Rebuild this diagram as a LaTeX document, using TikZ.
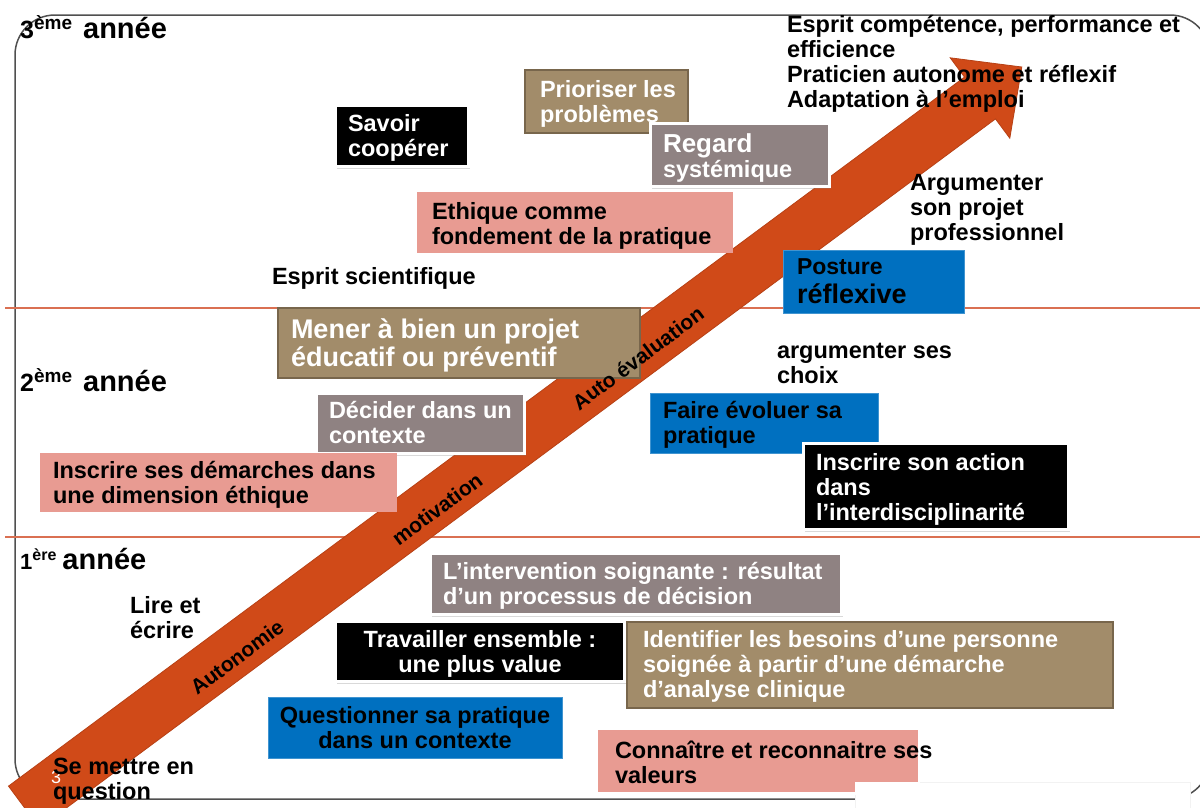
\documentclass[tikz,border=0pt]{standalone}
\usepackage{fontspec}
\setmainfont{Liberation Sans}
\usetikzlibrary{fit,shadows}
\definecolor{tanc}{RGB}{162,140,106}
\definecolor{tanb}{RGB}{120,102,76}
\definecolor{grayc}{RGB}{143,130,130}
\definecolor{pinkc}{RGB}{232,155,146}
\definecolor{bluec}{RGB}{0,112,192}
\definecolor{arrowc}{RGB}{208,74,24}
\definecolor{linec}{RGB}{218,112,82}
\definecolor{framec}{RGB}{80,80,80}
\tikzset{
  basebox/.style={inner sep=0pt, outer sep=0pt},
  boxtan/.style={basebox, fill=tanc, draw=tanb, line width=1.2pt},
  boxpink/.style={basebox, fill=pinkc},
  boxblue/.style={basebox, fill=bluec, draw=bluec!75!white, line width=0.8pt},
  shadowed/.style={drop shadow={shadow xshift=1.5pt, shadow yshift=-2.5pt, opacity=0.3}},
  boxgray/.style={basebox, inner sep=1.5pt, fill=grayc, draw=white, line width=3pt, shadowed},
  boxblack/.style={basebox, inner sep=1.5pt, fill=black, draw=white, line width=3pt, shadowed},
  txt/.style={inner sep=0pt, outer sep=0pt, align=left, anchor=west,
    font=\bfseries\fontsize{23.5}{25}\selectfont,
    execute at begin node=\strut, execute at end node=\strut},
  wtxt/.style={txt, text=white},
  ctxt/.style={txt, anchor=center, align=center},
  yr/.style={inner sep=0pt, anchor=base west, font=\bfseries\fontsize{29}{30}\selectfont},
  arrowlbl/.style={inner sep=0pt, rotate=36.56, font=\bfseries\fontsize{21}{21}\selectfont},
}
\begin{document}
\begin{tikzpicture}[x=1pt, y=-1pt]
\useasboundingbox (0,0) rectangle (1200,807);
\begin{scope}
\clip (0,0) rectangle (1200,807);
% frame
\draw[framec, line width=1.5pt, rounded corners=40pt] (15,15) rectangle (1210,799);
% year separators
\draw[linec, line width=1.3pt] (5,308) -- (1200,308);
\draw[linec, line width=1.3pt] (5,537) -- (1200,537);
% big arrow
\fill[arrowc, draw=arrowc!88!black, line width=0.8pt]
  (8.5,786.1) -- (964.5,77.1) -- (950.2,57.8) -- (1021.8,67) -- (1009.8,138.2)
  -- (995.5,118.9) -- (39.5,827.9) -- cycle;
% white cover at bottom right
\fill[white, draw=black!5] (855,782) rectangle (1190,810);
\end{scope}

% year labels
\node[yr] (y3) at (20,38) {{\fontsize{25}{25}\selectfont 3}\raisebox{9pt}{\fontsize{19}{19}\selectfont ème}\hspace{11pt}année};
\node[yr] (y2) at (20,391) {{\fontsize{25}{25}\selectfont 2}\raisebox{9pt}{\fontsize{19}{19}\selectfont ème}\hspace{11pt}année};
\node[yr] (y1) at (20,569) {{\fontsize{22}{22}\selectfont 1}\raisebox{9pt}{\fontsize{16}{16}\selectfont ère}\hspace{6pt}année};

% top right
\node[txt] (topr) at (787,65.5) {Esprit compétence, performance et\\efficience\\Praticien autonome et réflexif\\Adaptation à l’emploi};

% 3rd year
\node[boxblack, fit={(337,107)(467,165)}] (savoir) {};
\node[wtxt] (savoir-t) at (348,139.5) {Savoir\\coopérer};
\node[boxtan, fit={(525,70)(688,133)}] (prio) {};
\node[wtxt] (prio-t) at (540,105) {Prioriser les\\problèmes};
\node[boxgray, fit={(652,125)(828,185)}] (regard) {};
\node[wtxt] (regard-t) at (663,159) {{\fontsize{26}{26}\selectfont Regard}\\systémique};
\node[boxpink, fit={(417,192)(733,253)}] (ethique) {};
\node[txt] (ethique-t) at (432,227) {Ethique comme\\fondement de la pratique};
\node[txt] (esprit) at (272,279) {Esprit scientifique};
\node[txt] (argproj) at (910,211) {Argumenter\\son projet\\professionnel};
\node[boxblue, fit={(783,250)(964,313)}] (posture) {};
\node[txt] (posture-t) at (797,285) {{\fontsize{23}{25}\selectfont Posture}\\[4pt]{\fontsize{27}{28}\selectfont réflexive}};

% 2nd year
\node[boxtan, fit={(278,308)(640,378)}] (mener) {};
\node[wtxt, font=\bfseries\fontsize{27}{28}\selectfont] (mener-t) at (291,347) {Mener à bien un projet\\éducatif ou préventif};
\node[txt] (argchoix) at (777,367.5) {argumenter ses\\choix};
\node[boxgray, fit={(318,395)(523,452)}] (decider) {};
\node[wtxt] (decider-t) at (329,426.5) {Décider dans un\\contexte};
\node[boxblue, fit={(650,393)(878,453)}] (faire) {};
\node[txt] (faire-t) at (663,426.5) {Faire évoluer sa\\pratique};
\node[boxpink, fit={(40,453)(397,512)}] (inscrire) {};
\node[txt] (inscrire-t) at (53,486) {Inscrire ses démarches dans\\une dimension éthique};
\node[boxblack, fit={(805,445)(1067,528)}] (action) {};
\node[wtxt] (action-t) at (816,490.5) {Inscrire son action\\dans\\l’interdisciplinarité};

% 1st year
\node[boxgray, fit={(432,555)(840,613)}] (interv) {};
\node[wtxt] (interv-t) at (443,587.5) {L’intervention soignante : résultat\\d’un processus de décision};
\node[txt] (lire) at (130,621.5) {Lire et\\écrire};
\node[boxblack, fit={(337,623)(623,680)}] (travailler) {};
\node[ctxt, text=white] (travailler-t) at (480,655.5) {Travailler ensemble :\\une plus value};
\node[boxtan, fit={(627,622)(1113,708)}] (identifier) {};
\node[wtxt] (identifier-t) at (643,668) {Identifier les besoins d’une personne\\soignée à partir d’une démarche\\d’analyse clinique};
\node[boxblue, fit={(268,697)(562,758)}] (question) {};
\node[ctxt] (question-t) at (415,731.5) {Questionner sa pratique\\dans un contexte};
\node[boxpink, fit={(598,730)(918,792)}] (connaitre) {};
\fill[white] (855,782) rectangle (920,795);
\node[txt] (connaitre-t) at (615,765.5) {Connaître et reconnaitre ses\\valeurs};

% arrow labels
\node[arrowlbl] (lautonomie) at (237,657) {Autonomie};
\node[arrowlbl] (lmotivation) at (437,509) {motivation};
\node[arrowlbl] (lautoeval) at (638,358) {Auto évaluation};

\node[inner sep=0pt, anchor=west, text=white, font=\fontsize{18}{18}\selectfont] (slidenum) at (51,777) {3};
\node[txt] (semettre) at (53,782.5) {Se mettre en\\question};
\end{tikzpicture}
\end{document}
